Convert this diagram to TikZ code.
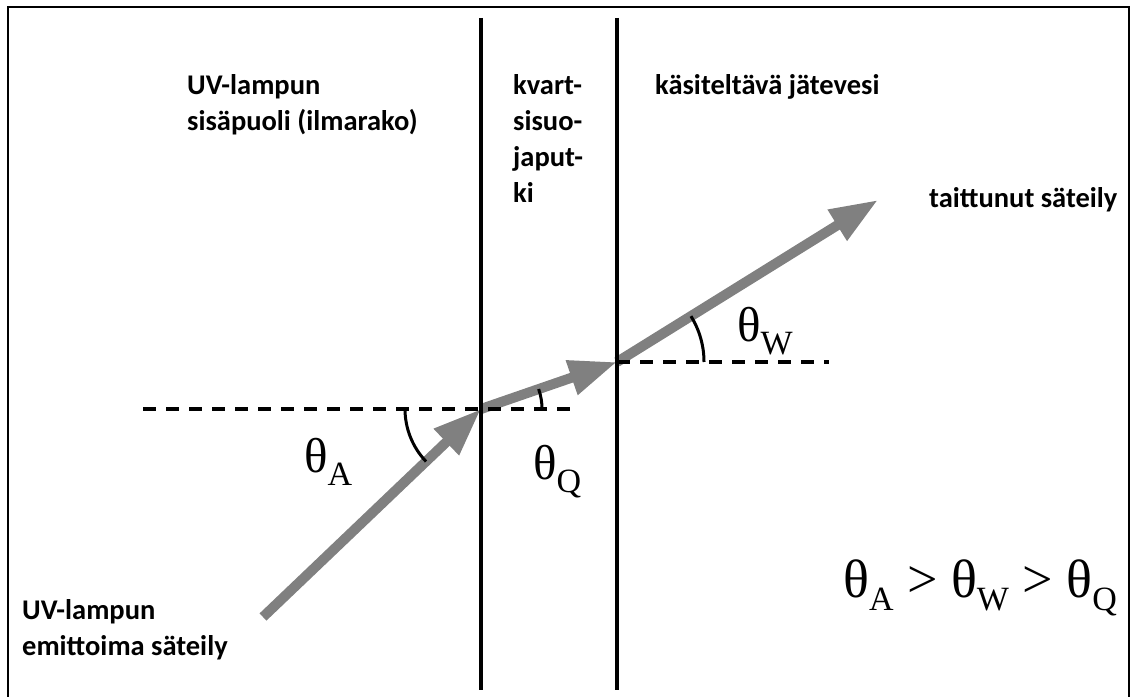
\documentclass[tikz,border=0pt]{standalone}
\usepackage{fontspec}
\setmainfont{Carlito}
\newfontfamily\tms{Liberation Serif}
\usetikzlibrary{arrows.meta}
\definecolor{raygray}{RGB}{128,128,128}
\newcommand\lsub[1]{\raisebox{-13pt}{\fontsize{34}{34}\selectfont #1}}
\begin{document}
\begin{tikzpicture}[x=1pt,y=1pt,
  lbl/.style={font=\fontsize{28.5}{36}\selectfont\bfseries, anchor=base west, inner sep=0pt, align=left},
  th/.style={font=\tms\fontsize{49}{50}\selectfont, anchor=base west, inner sep=0pt},
  ray/.style={draw=raygray, line width=10pt, -{Triangle[length=48pt,width=34pt]}},
  wall/.style={line width=3.2pt},
  guide/.style={line width=3.5pt, dash pattern=on 13pt off 10pt},
  anglearc/.style={line width=3pt}]
\useasboundingbox (0,0) rectangle (1134,696);
\draw[line width=2pt] (8,-5) -- (8,689) -- (1129,689) -- (1129,-5);
% key points
\coordinate (S) at (263,79);
\coordinate (P1) at (481,287);
\coordinate (P2) at (617,334);
\coordinate (E) at (878,496);
\coordinate (DL1) at (143,287);
\coordinate (DL2) at (580,287);
\coordinate (DR2) at (829,334);
\coordinate (W1t) at (481,678);
\coordinate (W1b) at (481,6);
\coordinate (W2t) at (617,678);
\coordinate (W2b) at (617,6);
% rays
\draw[ray] (S) -- (P1);
\draw[ray] (P1) -- (P2);
\draw[ray] (P2) -- (E);
% guides
\draw[guide] (DL1) -- (DL2);
\draw[guide] (P2) -- (DR2);
% walls
\draw[wall] (W1t) -- (W1b);
\draw[wall] (W2t) -- (W2b);
% angle arcs
\draw[anglearc] ([shift={(180:76)}]P1) arc[start angle=180, end angle=223.7, radius=76pt];
\draw[anglearc] ([shift={(0:61)}]P1) arc[start angle=0, end angle=19.1, radius=61pt];
\draw[anglearc] ([shift={(0:87)}]P2) arc[start angle=0, end angle=31.8, radius=87pt];
% angle labels
\node[th] (tA) at (304,223) {θ\lsub{A}};
\node[th] (tQ) at (533,216) {θ\lsub{Q}};
\node[th] (tW) at (737,354) {θ\lsub{W}};
\node[th, font=\tms\fontsize{54}{54}\selectfont] (ineq) at (843,99) {θ\lsub{A} > θ\lsub{W} > θ\lsub{Q}};
% region texts (anchor = baseline of the last line)
\node[lbl] (uvin) at (187,565) {UV-lampun\\sisäpuoli (ilmarako)};
\node[lbl] (kv) at (513,493) {kvart-\\sisuo-\\japut-\\ki};
\node[lbl] (kj) at (655,601) {käsiteltävä jätevesi};
\node[lbl] (tai) at (929,488) {taittunut säteily};
\node[lbl] (uvem) at (22,41) {UV-lampun\\emittoima säteily};
\end{tikzpicture}
\end{document}
